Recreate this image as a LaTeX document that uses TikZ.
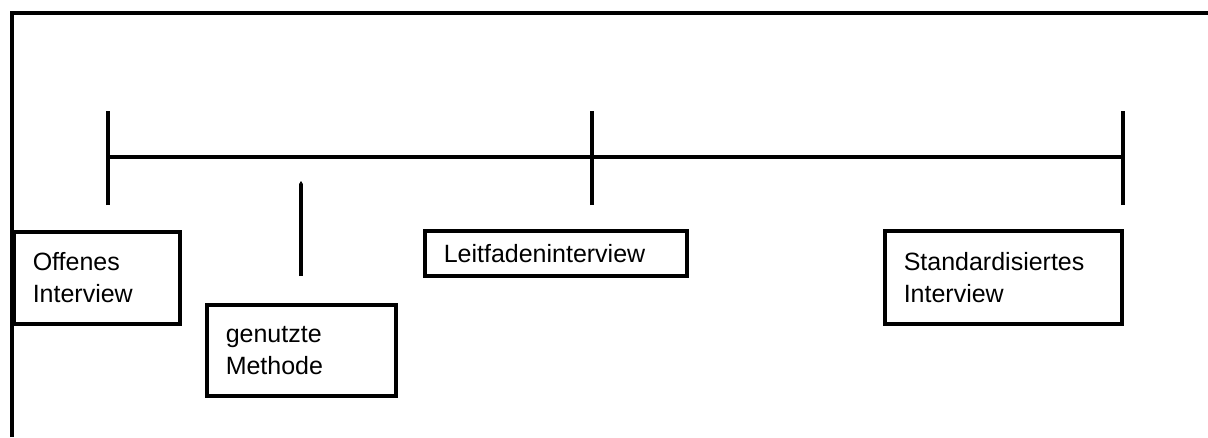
\documentclass[tikz,border=0pt]{standalone}
\usepackage{fontspec}
\setmainfont{Liberation Sans}
\usetikzlibrary{arrows.meta}
\begin{document}
\begin{tikzpicture}[x=1pt,y=-1pt,line width=3.5pt,
  box/.style={draw,rectangle,anchor=north west,inner xsep=19pt,inner ysep=0pt,
    align=left,font=\fontsize{25}{32}\selectfont},
  rule/.style={line width=3.5pt}]
\useasboundingbox (0,0) rectangle (1208,437);
% frame
\coordinate (fb) at (12,437);
\coordinate (ftl) at (12,13);
\coordinate (fr) at (1210,13);
\draw[rule] (fb) -- (ftl) -- (fr);
% scale
\coordinate (s1) at (108,157);
\coordinate (s2) at (592,157);
\coordinate (s3) at (1123,157);
\draw[rule] (s1) -- (s3);
\foreach \c in {s1,s2,s3} {
  \draw[rule] ([yshift=-48pt]\c) -- ([yshift=46pt]\c);
}
% marker
\coordinate (m1) at (301,276);
\coordinate (m2) at (301,181);
\draw[rule,-{Triangle[width=3.5pt,length=3pt]}] (m1) -- (m2);
% boxes
\node[box,minimum width=166pt,minimum height=92pt,text width=128pt] (offen) at (12,230) {Offenes\\Interview};
\node[box,minimum width=189pt,minimum height=91pt,text width=151pt] (methode) at (205,303) {genutzte\\Methode};
\node[box,minimum width=262pt,minimum height=45pt,text width=224pt] (leit) at (423,229) {Leitfadeninterview};
\node[box,minimum width=237pt,minimum height=93pt,text width=199pt] (stand) at (883,229) {Standardisiertes\\Interview};
\end{tikzpicture}
\end{document}
